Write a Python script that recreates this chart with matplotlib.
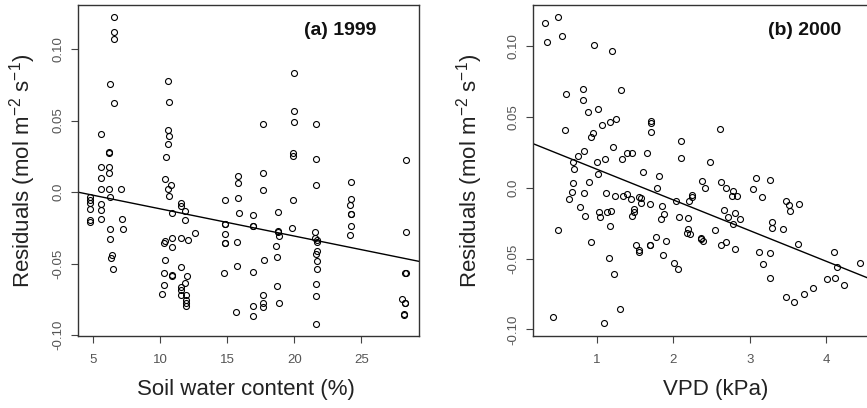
import numpy as np
import matplotlib
matplotlib.use("Agg")
import matplotlib.pyplot as plt

plt.rcParams['font.family'] = ['Liberation Sans', 'DejaVu Sans']
plt.rcParams['axes.unicode_minus'] = False

# (a) 1999: soil water content (%) vs residuals
swc_1999 = [4.75, 4.78, 4.78, 4.78, 4.78, 4.78,
            5.55, 5.55, 5.55, 5.55, 5.55, 5.55, 5.55,
            6.54, 6.54, 6.54, 6.25, 6.57, 6.2, 6.2, 6.2, 6.2, 6.2, 6.22, 6.25, 6.27, 6.42, 6.3, 6.49,
            7.04, 7.12, 7.22,
            10.55, 10.67, 10.55, 10.63, 10.55, 10.43, 10.37, 10.8, 10.55, 10.63, 10.87, 10.87, 10.37,
            10.28, 10.87, 10.37, 10.28, 10.87, 10.9, 10.28, 10.15,
            11.52, 11.52, 11.87, 11.87, 12.57, 11.57, 12.07, 11.57, 11.97, 11.87, 11.52, 11.52, 11.52,
            11.94, 11.94, 11.94, 11.94,
            14.83, 14.85, 14.85, 14.85, 14.8, 14.85, 14.73,
            15.78, 15.78, 15.78, 15.85, 15.75, 15.7, 15.65,
            16.9, 16.9, 16.92, 16.9, 16.9, 16.9,
            17.64, 17.64, 17.64, 17.74, 17.69, 17.69, 17.69,
            18.78, 18.78, 18.8, 18.84, 18.63, 18.73, 18.73, 18.84,
            19.96, 19.96, 19.96, 19.88, 19.88, 19.88, 19.85,
            21.62, 21.62, 21.62, 21.52, 21.57, 21.69, 21.72, 21.69, 21.64, 21.72, 21.72, 21.64, 21.64, 21.64,
            24.21, 24.21, 24.13, 24.23, 24.25, 24.21, 24.16,
            28.31, 28.34, 28.28, 28.3, 28.06, 28.24, 28.28, 28.16, 28.2]
res_1999 = [-0.0035, -0.0053, -0.0074, -0.0117, -0.0198, -0.021,
            0.0406, 0.0175, 0.0098, 0.002, -0.0081, -0.0124, -0.0191,
            0.1225, 0.112, 0.1067, 0.0754, 0.0626, 0.027, 0.0278, 0.0175, 0.0136, 0.002, -0.0035,
            -0.0257, -0.0327, -0.0441, -0.0462, -0.0534,
            0.002, -0.0191, -0.0257,
            0.0777, 0.0628, 0.0437, 0.0392, 0.0334, 0.0243, 0.0089, 0.005, 0.002, -0.003, -0.0149,
            -0.0322, -0.0343, -0.0357, -0.038, -0.0473, -0.0562, -0.0581, -0.0583, -0.0646, -0.0709,
            -0.0077, -0.0095, -0.0135, -0.0193, -0.0289, -0.0322, -0.0336, -0.052, -0.0585, -0.0637,
            -0.0665, -0.0683, -0.0716, -0.0716, -0.0754, -0.0777, -0.0798,
            -0.0055, -0.022, -0.0225, -0.0296, -0.0352, -0.0358, -0.0567,
            0.011, 0.0063, -0.0042, -0.0144, -0.035, -0.0513, -0.084,
            -0.0161, -0.0236, -0.024, -0.0557, -0.0796, -0.0868,
            0.0479, 0.0133, 0.0012, -0.0471, -0.0721, -0.0777, -0.08,
            -0.0142, -0.0273, -0.0278, -0.0308, -0.0373, -0.045, -0.0658, -0.0777,
            0.0831, 0.0567, 0.0493, 0.0273, 0.025, -0.0058, -0.0249,
            0.0479, 0.0234, 0.0049, -0.028, -0.0322, -0.0333, -0.035, -0.0408, -0.0431, -0.0478,
            -0.0539, -0.0639, -0.0728, -0.092,
            0.007, -0.0051, -0.0088, -0.0151, -0.0155, -0.024, -0.0298,
            0.0222, -0.0282, -0.0562, -0.0565, -0.0747, -0.0772, -0.0775, -0.0854, -0.0856]
fit_1999 = (0.0073, -0.0019)   # intercept, slope

# (b) 2000: VPD (kPa) vs residuals
vpd_2000 = [0.322, 0.348, 0.495, 0.548, 0.965, 1.2,
            0.604, 0.825, 0.825, 0.89, 1.02, 1.317,
            0.587, 0.948, 0.926, 1.065, 1.173, 1.248,
            1.704, 1.704, 1.704,
            0.834, 1.213, 0.752, 0.69, 0.704, 1.004, 1.104, 1.326, 1.395, 1.456, 1.66,
            1.017, 1.6, 0.896, 0.69, 1.812,
            0.639, 0.674, 0.838, 1.125, 1.235, 1.343, 1.391, 1.447, 1.551, 1.581, 1.581, 1.691,
            0.782, 0.847, 1.034, 1.043, 1.13, 1.19, 1.49, 1.49, 1.46,
            1.173, 0.491, 0.93, 1.52, 1.548, 1.55, 1.695, 1.70, 1.78,
            1.16, 1.225, 1.3, 0.434, 1.1,
            2.103, 2.099, 1.786, 1.855, 2.038, 2.239, 2.246, 2.212, 2.377,
            1.838, 1.877, 2.074, 2.194, 2.19, 2.181, 2.22, 1.903, 2.365, 1.868, 2.012, 2.064,
            2.617, 2.486, 2.412, 2.625, 2.686, 2.78, 2.838, 2.773, 3.077, 3.26, 3.042, 3.155,
            3.468, 3.516, 3.643, 3.527, 2.664, 2.712, 2.803, 2.877, 2.782, 2.552, 2.369, 2.395,
            2.62, 2.69, 2.803, 3.29, 3.29, 3.438, 3.12, 3.263, 3.177, 3.628, 4.098, 4.142, 4.433,
            3.26, 4.012, 4.11,
            3.468, 3.572, 3.706, 3.82, 4.236]
res_2000 = [0.1161, 0.1031, 0.1208, 0.1071, 0.1006, 0.0968,
            0.0664, 0.0697, 0.0619, 0.0537, 0.0554, 0.0692,
            0.041, 0.0388, 0.036, 0.0445, 0.0464, 0.0487,
            0.0473, 0.0455, 0.0391,
            0.0259, 0.0287, 0.0224, 0.0179, 0.013, 0.0184, 0.02, 0.0205, 0.0243, 0.0247, 0.0245,
            0.0097, 0.0111, 0.0038, 0.0033, 0.008,
            -0.008, -0.0028, -0.0035, -0.004, -0.0056, -0.0061, -0.0044, -0.008, -0.0064, -0.0073,
            -0.011, -0.0113,
            -0.0134, -0.0202, -0.017, -0.0205, -0.017, -0.0165, -0.0153, -0.0174, -0.0198,
            -0.027, -0.0297, -0.0381, -0.0407, -0.044, -0.0452, -0.0405, -0.0408, -0.0346,
            -0.0494, -0.0607, -0.0859, -0.0915, -0.0955,
            0.0332, 0.0212, 0.0, -0.0131, -0.0096, -0.0052, -0.0068, -0.0096, 0.0049,
            -0.0219, -0.0188, -0.0205, -0.0212, -0.029, -0.0318, -0.0329, -0.0376, -0.036, -0.0473,
            -0.0532, -0.0576,
            0.0417, 0.0184, 0.0, 0.0042, 0.0, -0.0023, -0.0061, -0.0061, 0.0066, 0.0054, -0.0007, -0.0068,
            -0.0092, -0.012, -0.0117, -0.0165, -0.0157, -0.0205, -0.0181, -0.0221, -0.0256, -0.0297,
            -0.0353, -0.0374, -0.0407, -0.0383, -0.0435, -0.0244, -0.0282, -0.0292, -0.0456, -0.0461,
            -0.0539, -0.0396, -0.0456, -0.0558, -0.0532,
            -0.064, -0.0645, -0.0636,
            -0.0774, -0.0807, -0.0751, -0.071, -0.0685]
fit_2000 = (0.0348, -0.0217)

yticks = [-0.10, -0.05, 0.0, 0.05, 0.10]
ytick_labels = ['-0.10', '-0.05', '0.0', '0.05', '0.10']
ylabel = r'Residuals (mol m$\mathregular{^{-2}}$ s$\mathregular{^{-1}}$)'

fig = plt.figure(figsize=(8.67, 4.08), dpi=100)
ax1 = fig.add_axes([0.09, 0.1765, 0.3933, 0.8105])
ax2 = fig.add_axes([0.6148, 0.1772, 0.3852, 0.8098])

panels = [
    (ax1, swc_1999, res_1999, fit_1999, (3.86, 29.3), (-0.1005, 0.1305), [5, 10, 15, 20, 25],
     'Soil water content (%)', '(a) 1999', 0.874, 0.493, -0.164),
    (ax2, vpd_2000, res_2000, fit_2000, (0.17, 4.53), (-0.1045, 0.1288), [1, 2, 3, 4],
     'VPD (kPa)', '(b) 2000', 0.922, 0.548, -0.189),
]

for ax, x, y, fit, xl, yl, xt, xlab, title, tx, lx, ly in panels:
    ax.plot(x, y, 'o', mfc='none', mec='black', ms=4.3, mew=0.8, clip_on=False)
    xs = np.array(xl)
    ax.plot(xs, fit[0] + fit[1] * xs, color='black', lw=1.0)
    ax.set_xlim(*xl)
    ax.set_ylim(*yl)
    ax.set_xticks(xt)
    ax.set_xticklabels([str(t) for t in xt])
    ax.set_yticks(yticks)
    ax.set_yticklabels(ytick_labels, rotation=90, va='center')
    ax.tick_params(direction='out', length=5, width=0.8, colors='#444444',
                   labelsize=9.5, labelcolor='#555555')
    ax.tick_params(axis='x', pad=8)
    ax.tick_params(axis='y', pad=5)
    for s in ax.spines.values():
        s.set_color('#333333')
        s.set_linewidth(1.0)
    ax.set_xlabel(xlab, fontsize=16, color='#222222', va='center')
    ax.xaxis.set_label_coords(lx, -0.163)
    ax.set_ylabel(ylabel, fontsize=16, color='#222222', va='center')
    ax.yaxis.set_label_coords(ly, 0.5)
    ax.text(tx, 0.925, title, transform=ax.transAxes, ha='right', va='center',
            fontsize=14, fontweight='bold', color='#111111')

ax2.spines['right'].set_visible(False)

fig.savefig('out.png', dpi=100)
